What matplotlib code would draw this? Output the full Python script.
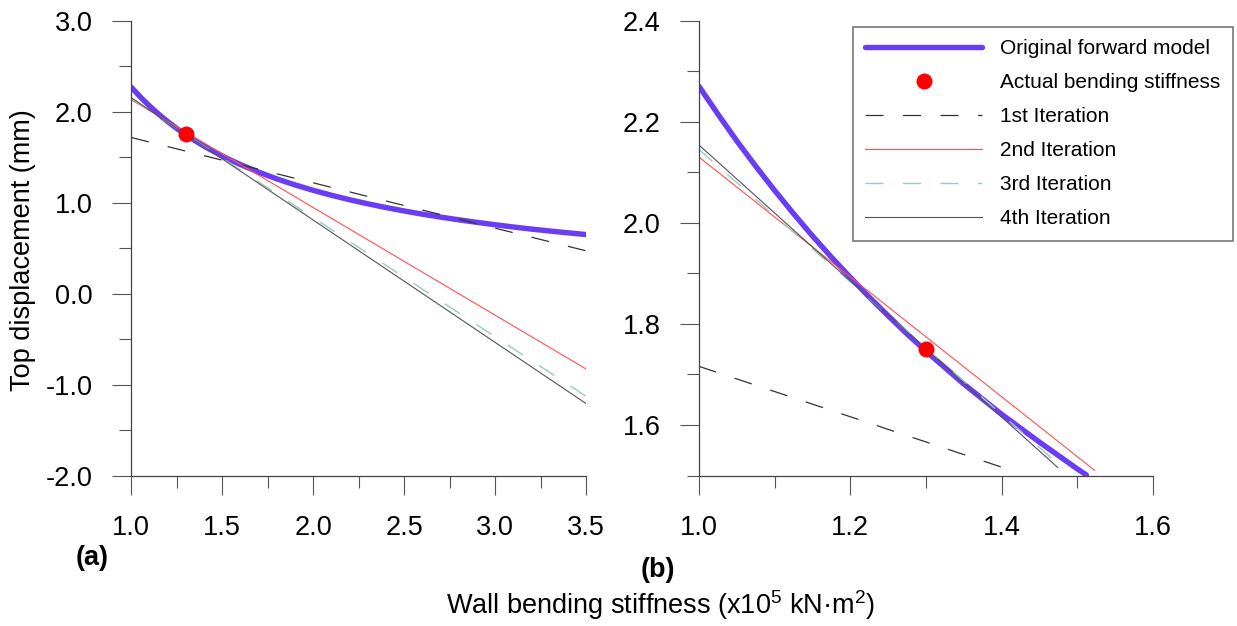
import matplotlib
matplotlib.use('Agg')
import matplotlib.pyplot as plt
from matplotlib.ticker import MultipleLocator, FormatStrFormatter
import numpy as np

# ==========================================
# data
# ==========================================
# original forward model (top displacement vs wall bending stiffness)
model_x = [1.0, 1.025, 1.05, 1.075, 1.1, 1.125, 1.15, 1.175, 1.2, 1.225, 1.25,
           1.275, 1.3, 1.35, 1.4, 1.45, 1.5, 1.512,
           1.55, 1.6, 1.7, 1.8, 1.9, 2.0, 2.1, 2.2, 2.3, 2.4, 2.5, 2.6, 2.7,
           2.8, 2.9, 3.0, 3.1, 3.2, 3.3, 3.4, 3.5]
model_y = [2.270, 2.215, 2.162, 2.112, 2.064, 2.018, 1.974, 1.932, 1.892, 1.853,
           1.816, 1.780, 1.746, 1.681, 1.621, 1.566,
           1.513, 1.501, 1.465, 1.419, 1.335, 1.261, 1.195, 1.135, 1.081, 1.032,
           0.987, 0.946, 0.908, 0.873, 0.841, 0.811, 0.783, 0.757, 0.732, 0.709,
           0.688, 0.668, 0.649]

# actual bending stiffness
actual_x = 1.3
actual_y = 1.75

# iteration lines, panel (a): x from 1.0 to 3.5
iter_x_a = [1.0, 3.5]
iter_y_a = {
    '1st Iteration': [1.716, 0.47],
    '2nd Iteration': [2.13, -0.83],
    '3rd Iteration': [2.145, -1.13],
    '4th Iteration': [2.154, -1.21],
}
# iteration lines, panel (b): from x = 1.0 to where they reach the bottom
iter_x_b = {
    '1st Iteration': [1.0, 1.407],
    '2nd Iteration': [1.0, 1.523],
    '3rd Iteration': [1.0, 1.477],
    '4th Iteration': [1.0, 1.474],
}
iter_y_b = {
    '1st Iteration': [1.716, 1.513],
    '2nd Iteration': [2.13, 1.51],
    '3rd Iteration': [2.145, 1.52],
    '4th Iteration': [2.154, 1.516],
}

# ==========================================
# styles
# ==========================================
plt.rcParams['font.family'] = ['Liberation Sans', 'DejaVu Sans']
plt.rcParams['mathtext.fontset'] = 'custom'
plt.rcParams['mathtext.rm'] = 'Liberation Sans'
plt.rcParams['mathtext.it'] = 'Liberation Sans:italic'
plt.rcParams['lines.scale_dashes'] = False

purple = '#6a3df5'
iter_styles = {
    '1st Iteration': dict(color='#333333', lw=0.9, dashes=(13, 14)),
    '2nd Iteration': dict(color='#ff5050', lw=0.8, linestyle='-'),
    '3rd Iteration': dict(color='#9cc8c8', lw=1.0, dashes=(13, 14)),
    '4th Iteration': dict(color='#555555', lw=0.8, linestyle='-'),
}
big = 19.5

fig = plt.figure(figsize=(12.37, 6.26), dpi=100)
ax_a = fig.add_axes([0.1061, 0.2404, 0.3678, 0.7265])
ax_b = fig.add_axes([0.5651, 0.2404, 0.3670, 0.7265])

model_x_arr = np.array(model_x)
model_y_arr = np.array(model_y)
mask_b = model_x_arr <= 1.512

# panel (a)
h_model, = ax_a.plot(model_x_arr, model_y_arr, color=purple, lw=3.9,
                     solid_capstyle='round', solid_joinstyle='round',
                     label='Original forward model')
for name, st in iter_styles.items():
    ax_a.plot(iter_x_a, iter_y_a[name], label=name, **st)
h_act, = ax_a.plot([actual_x], [actual_y], 'o', color='#ff0000', ms=11.5,
                   mec='none', label='Actual bending stiffness', zorder=5)

# panel (b)
ax_b.plot(model_x_arr[mask_b], model_y_arr[mask_b], color=purple, lw=3.9,
          solid_capstyle='round', solid_joinstyle='round')
iter_handles = []
for name, st in iter_styles.items():
    h, = ax_b.plot(iter_x_b[name], iter_y_b[name], label=name, **st)
    iter_handles.append(h)
ax_b.plot([actual_x], [actual_y], 'o', color='#ff0000', ms=11.5, mec='none', zorder=5)

# axes formatting
ax_a.set_xlim(1.0, 3.5)
ax_a.set_ylim(-2.0, 3.0)
ax_a.xaxis.set_major_locator(MultipleLocator(0.5))
ax_a.xaxis.set_minor_locator(MultipleLocator(0.25))
ax_a.yaxis.set_major_locator(MultipleLocator(1.0))
ax_a.yaxis.set_minor_locator(MultipleLocator(0.5))

ax_b.set_xlim(1.0, 1.6)
ax_b.set_ylim(1.5, 2.4)
ax_b.xaxis.set_major_locator(MultipleLocator(0.2))
ax_b.xaxis.set_minor_locator(MultipleLocator(0.1))
ax_b.yaxis.set_major_locator(MultipleLocator(0.2))
ax_b.yaxis.set_minor_locator(MultipleLocator(0.1))

for ax in (ax_a, ax_b):
    ax.xaxis.set_major_formatter(FormatStrFormatter('%.1f'))
    ax.yaxis.set_major_formatter(FormatStrFormatter('%.1f'))
    for side in ('top', 'right'):
        ax.spines[side].set_visible(False)
    for side in ('left', 'bottom'):
        ax.spines[side].set_color('#444444')
        ax.spines[side].set_linewidth(0.9)
    ax.tick_params(which='major', direction='out', length=13.7, width=0.8,
                   color='#555555', labelsize=big)
    ax.tick_params(axis='x', which='major', pad=15)
    ax.tick_params(axis='y', which='major', pad=14)
    ax.tick_params(which='minor', direction='out', length=8.6, width=0.8,
                   color='#555555')

# labels
fig.text(23 / 1237, 1 - 250 / 626, 'Top displacement (mm)', rotation=90,
         ha='center', va='center', fontsize=big)
fig.text(660 / 1237, 1 - 605 / 626,
         r'Wall bending stiffness (x10$^{5}$ kN·m$^{2}$)',
         ha='center', va='center', fontsize=big)
fig.text(92 / 1237, 1 - 558 / 626, '(a)', ha='center', va='center',
         fontsize=big, fontweight='bold')
fig.text(658 / 1237, 1 - 570 / 626, '(b)', ha='center', va='center',
         fontsize=big, fontweight='bold')

# legend
leg = fig.legend([h_model, h_act] + iter_handles,
                 ['Original forward model', 'Actual bending stiffness',
                  '1st Iteration', '2nd Iteration', '3rd Iteration', '4th Iteration'],
                 loc='upper right', bbox_to_anchor=(1233 / 1237, 1 - 27 / 626),
                 fontsize=15, handlelength=5.6, handletextpad=0.87,
                 labelspacing=0.72, borderpad=0.6, borderaxespad=0,
                 fancybox=False, framealpha=1, edgecolor='#777777')
leg.get_frame().set_linewidth(1.2)

plt.savefig('out.png', dpi=100)
plt.close(fig)
